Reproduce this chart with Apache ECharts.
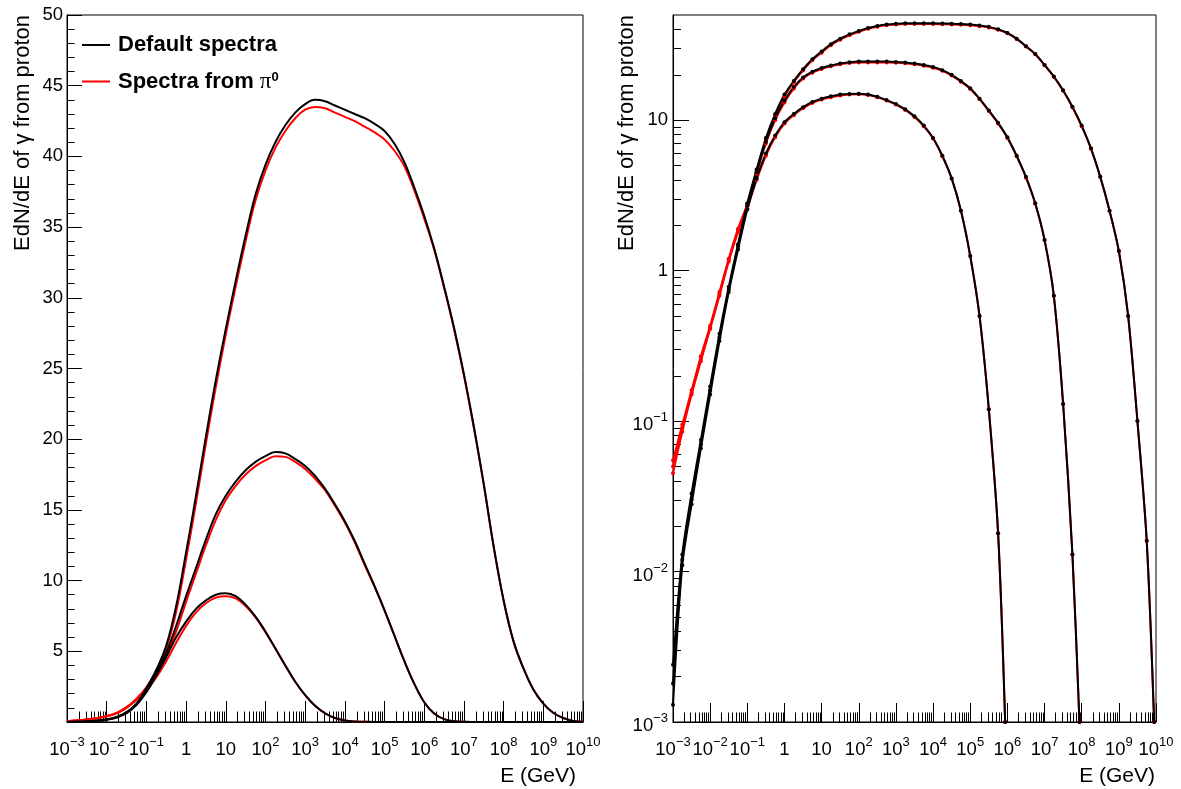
<!DOCTYPE html>
<html>
<head>
<meta charset="utf-8">
<script src="https://cdn.jsdelivr.net/npm/echarts@6/dist/echarts.min.js"></script>
<style>
html,body{margin:0;padding:0;background:#fff;}
#c{width:1181px;height:789px;}
</style>
</head>
<body>
<div id="c"></div>
<script>
// ---- data: log10(E/GeV) grid shared by all curves ----
const logE = [-3,-2.75,-2.5,-2.25,-2,-1.75,-1.5,-1.25,-1,-0.75,-0.5,-0.25,0,0.25,0.5,0.75,1,1.25,1.5,1.75,2,2.25,2.5,2.75,3,3.25,3.5,3.75,4,4.25,4.5,4.75,5,5.25,5.5,5.75,6,6.25,6.5,6.75,7,7.25,7.5,7.75,8,8.25,8.5,8.75,9,9.25,9.5,9.75,10];

// left panel (linear y)
const left1Default = [0.002,0.01,0.03,0.08,0.16,0.32,0.62,1.2,2.1,3.3,4.6,6.0,7.1,8.0,8.6,9.0,9.1,8.9,8.3,7.45,6.4,5.2,4.0,2.85,1.9,1.15,0.62,0.28,0.11,0.035,0.01,0,0,0,0,0,0,0,0,0,0,0,0,0,0,0,0,0,0,0,0,0,0];
const left1Pi0     = [0.05,0.1,0.17,0.27,0.4,0.62,1.0,1.55,2.25,3.15,4.3,5.6,6.8,7.75,8.4,8.8,8.9,8.75,8.2,7.4,6.35,5.2,4.0,2.85,1.9,1.15,0.62,0.28,0.11,0.035,0.01,0,0,0,0,0,0,0,0,0,0,0,0,0,0,0,0,0,0,0,0,0,0];
const left2Default = [0.002,0.01,0.035,0.085,0.17,0.34,0.66,1.25,2.3,3.5,4.9,6.8,8.9,10.9,12.9,14.7,16.0,17.0,17.8,18.4,18.8,19.1,19.0,18.6,18.1,17.4,16.5,15.4,14.2,12.8,11.2,9.6,7.9,6.1,4.3,2.7,1.4,0.6,0.2,0.06,0.015,0.003,0,0,0,0,0,0,0,0,0,0,0];
const left2Pi0     = [0.05,0.1,0.17,0.27,0.41,0.63,1.02,1.6,2.35,3.4,4.7,6.4,8.5,10.5,12.5,14.3,15.7,16.7,17.5,18.1,18.5,18.8,18.75,18.4,17.9,17.2,16.4,15.3,14.1,12.7,11.1,9.55,7.9,6.1,4.3,2.7,1.4,0.6,0.2,0.06,0.015,0.003,0,0,0,0,0,0,0,0,0,0,0];
const left3Default = [0.002,0.01,0.035,0.09,0.18,0.36,0.7,1.3,2.4,3.7,5.4,8.2,12.0,16.0,20.2,24.2,27.8,31.2,34.4,37.3,39.4,41.0,42.2,43.1,43.7,44.0,43.9,43.6,43.3,43.0,42.7,42.3,41.8,40.9,39.6,37.8,35.8,33.5,30.8,27.9,24.6,20.9,16.8,12.4,8.6,5.7,3.8,2.3,1.3,0.65,0.28,0.08,0.01];
const left3Pi0     = [0.05,0.1,0.17,0.28,0.42,0.65,1.05,1.65,2.45,3.6,5.2,7.8,11.5,15.5,19.7,23.7,27.4,30.8,34.0,36.9,39.0,40.6,41.8,42.7,43.3,43.5,43.4,43.1,42.8,42.5,42.1,41.7,41.2,40.4,39.3,37.6,35.6,33.4,30.7,27.8,24.5,20.8,16.8,12.4,8.6,5.7,3.8,2.3,1.3,0.65,0.28,0.08,0.01];

// right panel (log y); null = below the axis floor
const right1Default = [0.0013,0.011,0.028,0.066,0.15,0.34,0.72,1.38,2.55,4.1,6.0,7.9,9.7,11.0,12.2,13.2,13.9,14.4,14.8,14.95,15.0,14.8,14.3,13.6,12.8,11.8,10.6,9.2,7.6,5.8,4.1,2.5,1.25,0.5,0.12,0.018,null,null,null,null,null,null,null,null,null,null,null,null,null,null,null,null,null];
const right1Pi0     = [0.045,0.085,0.15,0.25,0.41,0.68,1.15,1.8,2.6,4.0,5.8,7.7,9.5,10.8,12.0,13.0,13.7,14.2,14.6,14.8,14.85,14.7,14.2,13.5,12.7,11.7,10.5,9.1,7.55,5.75,4.1,2.5,1.25,0.5,0.12,0.018,null,null,null,null,null,null,null,null,null,null,null,null,null,null,null,null,null];
const right2Default = [0.0018,0.012,0.03,0.07,0.16,0.36,0.75,1.45,2.7,4.5,7.2,10.3,13.5,16.6,19.2,21.0,22.2,23.1,23.8,24.3,24.5,24.5,24.5,24.5,24.4,24.2,23.8,23.3,22.6,21.5,20.0,18.2,16.3,13.9,11.6,9.6,7.7,5.8,4.2,2.8,1.6,0.68,0.13,0.013,null,null,null,null,null,null,null,null,null];
const right2Pi0     = [0.05,0.09,0.155,0.26,0.42,0.7,1.18,1.85,2.7,4.4,7.0,10.0,13.1,16.2,18.9,20.7,21.9,22.8,23.5,24.0,24.2,24.2,24.2,24.2,24.1,23.9,23.5,23.0,22.3,21.3,19.8,18.0,16.1,13.8,11.5,9.5,7.6,5.75,4.15,2.78,1.6,0.68,0.13,0.013,null,null,null,null,null,null,null,null,null];
const right3Default = [0.0024,0.013,0.033,0.075,0.17,0.38,0.78,1.5,2.8,4.7,7.6,11.0,14.8,18.2,21.8,25.4,28.6,32.0,34.8,37.2,39.2,41.0,42.3,43.2,43.7,44.0,44.0,44.0,44.0,43.9,43.8,43.6,43.2,42.6,41.7,40.2,38.0,34.8,31.0,27.5,23.3,19.5,15.8,12.3,9.2,6.5,4.2,2.5,1.35,0.5,0.1,0.016,null];
const right3Pi0     = [0.055,0.095,0.16,0.27,0.43,0.72,1.2,1.9,2.78,4.6,7.4,10.7,14.4,17.8,21.4,25.0,28.1,31.5,34.3,36.7,38.7,40.5,41.8,42.7,43.2,43.5,43.5,43.5,43.5,43.4,43.3,43.1,42.7,42.1,41.3,39.9,37.8,34.6,30.9,27.4,23.2,19.4,15.7,12.2,9.1,6.45,4.2,2.5,1.35,0.5,0.1,0.016,null];
// log10(E) where each right-panel curve reaches the 1e-3 floor
const rightCutoffLogE = [5.94, 7.94, 9.95];
const rightFloor = 0.001;
const rightCeil = 50;

const NAME_DEF = 'Default spectra';
const NAME_PI = 'Spectra from \u03c00';
const yTitle = 'EdN/dE of \u03b3 from proton';
const xTitle = 'E (GeV)';

// ---- build ----
const FONT = "'Liberation Sans', Arial, Helvetica, sans-serif";
const labRich = {
  b: {fontSize: 18.5, fontFamily: FONT, color: '#000', verticalAlign: 'bottom', lineHeight: 27},
  s: {fontSize: 13, fontFamily: FONT, color: '#000', verticalAlign: 'top', height: 20},
  c: {fontSize: 18.5, fontFamily: FONT, color: '#000'}
};
function powLabel(v, plain) {
  const n = Math.round(v);
  if (Math.abs(v - n) > 1e-6) return '';
  if (n === 0) return '{' + plain + '|1}';
  if (n === 1) return '{' + plain + '|10}';
  return '{b|10}{s|' + (n < 0 ? '\u2212' + (-n) : String(n)) + '}';
}
function minorLogTicks(lo, hi) {
  const out = [];
  for (let n = Math.floor(lo); n < hi; n++) {
    for (let k = 2; k <= 9; k++) {
      const t = n + Math.log10(k);
      if (t > lo && t < hi) out.push(t);
    }
  }
  return out;
}
const yMaxLog = Math.log10(rightCeil);
const yMinLog = Math.log10(rightFloor);

function leftData(vals) { return vals.map((v, i) => [logE[i], v]); }
function rightData(vals, cut) {
  const pts = [];
  vals.forEach((v, i) => { if (v != null && v > 0) pts.push([logE[i], Math.log10(v)]); });
  if (cut != null) pts.push([cut, Math.log10(rightFloor)]);
  return pts;
}

function mainX(grid, majorLen) {
  return {
    type: 'value', gridIndex: grid, min: -3, max: 10, interval: 1, position: 'bottom',
    axisLine: {show: true, onZero: false, lineStyle: {color: '#000', width: 1}},
    axisTick: {show: true, inside: true, length: majorLen, lineStyle: {color: '#000', width: 1}},
    axisLabel: {show: true, margin: 10, formatter: v => powLabel(v, 'b'), rich: labRich, color: '#000'},
    splitLine: {show: false}
  };
}
function minorX(grid, len) {
  return {
    type: 'value', gridIndex: grid, min: -3, max: 10, position: 'bottom', offset: 0,
    axisLine: {show: false, onZero: false},
    axisTick: {show: true, inside: true, length: len, customValues: minorLogTicks(-3, 10), lineStyle: {color: '#000', width: 1}},
    axisLabel: {show: false},
    splitLine: {show: false}
  };
}

const series = [];
function addLeft(vals, name, color) {
  series.push({
    type: 'line', name: name, xAxisIndex: 0, yAxisIndex: 0, data: leftData(vals),
    showSymbol: false, symbol: 'none', smooth: 0.4,
    lineStyle: {color: color, width: 2}, itemStyle: {color: color}, color: color,
    animation: false, silent: true
  });
}
function addRight(vals, cut, name, color) {
  series.push({
    type: 'line', name: name, xAxisIndex: 2, yAxisIndex: 1, data: rightData(vals, cut),
    showSymbol: true, symbol: 'circle', symbolSize: 4, smooth: 0.3,
    lineStyle: {color: color, width: 2}, itemStyle: {color: color, borderWidth: 0}, color: color,
    animation: false, silent: true
  });
}
addLeft(left1Pi0, NAME_PI, '#ff0000');
addLeft(left2Pi0, NAME_PI, '#ff0000');
addLeft(left3Pi0, NAME_PI, '#ff0000');
addLeft(left1Default, NAME_DEF, '#000000');
addLeft(left2Default, NAME_DEF, '#000000');
addLeft(left3Default, NAME_DEF, '#000000');
addRight(right1Pi0, rightCutoffLogE[0], NAME_PI, '#ff0000');
addRight(right2Pi0, rightCutoffLogE[1], NAME_PI, '#ff0000');
addRight(right3Pi0, rightCutoffLogE[2], NAME_PI, '#ff0000');
addRight(right1Default, rightCutoffLogE[0], NAME_DEF, '#000000');
addRight(right2Default, rightCutoffLogE[1], NAME_DEF, '#000000');
addRight(right3Default, rightCutoffLogE[2], NAME_DEF, '#000000');

const majorY = [-3, -2, -1, 0, 1];

const option = {
  animation: false,
  backgroundColor: '#fff',
  textStyle: {fontFamily: FONT},
  grid: [
    {left: 67, top: 15, width: 516, height: 707, show: true, borderColor: '#000', borderWidth: 1, backgroundColor: 'transparent'},
    {left: 673, top: 15, width: 483, height: 707, show: true, borderColor: '#000', borderWidth: 1, backgroundColor: 'transparent'}
  ],
  xAxis: [mainX(0, 21), minorX(0, 10.5), mainX(1, 19), minorX(1, 9.5)],
  yAxis: [
    {
      type: 'value', gridIndex: 0, min: 0, max: 50, interval: 5, position: 'left',
      axisLine: {show: true, onZero: false, lineStyle: {color: '#000', width: 1}},
      axisTick: {show: true, inside: true, length: 15, lineStyle: {color: '#000', width: 1}},
      minorTick: {show: true, splitNumber: 5, length: 7.5, lineStyle: {color: '#000', width: 1}},
      axisLabel: {margin: 4, fontSize: 18.5, fontFamily: FONT, color: '#000', formatter: v => (v === 0 ? '' : String(v))},
      splitLine: {show: false}
    },
    {
      type: 'value', gridIndex: 1, min: yMinLog, max: yMaxLog, position: 'left',
      axisLine: {show: true, onZero: false, lineStyle: {color: '#000', width: 1}},
      axisTick: {show: true, inside: true, length: 16, customValues: majorY, lineStyle: {color: '#000', width: 1}},
      axisLabel: {margin: 5, customValues: majorY, formatter: v => powLabel(v, 'c'), rich: labRich, color: '#000'},
      splitLine: {show: false}
    },
    {
      type: 'value', gridIndex: 1, min: yMinLog, max: yMaxLog, position: 'left', offset: 0,
      axisLine: {show: false, onZero: false},
      axisTick: {show: true, inside: true, length: 8, customValues: minorLogTicks(yMinLog, yMaxLog), lineStyle: {color: '#000', width: 1}},
      axisLabel: {show: false},
      splitLine: {show: false}
    }
  ],
  legend: {
    show: true, orient: 'vertical', left: 82, top: 34, itemGap: 14, padding: 0,
    itemWidth: 28, itemHeight: 2, icon: 'rect', selectedMode: false,
    data: [NAME_DEF, NAME_PI],
    formatter: name => (name === NAME_PI ? '{t|Spectra from }{p|\u03c0}{z|0}' : '{t|' + name + '}'),
    textStyle: {
      color: '#000', padding: [0, 0, 0, 3],
      rich: {
        t: {fontSize: 22, fontWeight: 'bold', fontFamily: FONT, color: '#000', lineHeight: 22, verticalAlign: 'middle'},
        p: {fontSize: 23, fontFamily: "'Liberation Serif','DejaVu Serif',serif", color: '#000', lineHeight: 22, verticalAlign: 'middle'},
        z: {fontSize: 13, fontWeight: 'bold', fontFamily: FONT, color: '#000', verticalAlign: 'top'}
      }
    }
  },
  graphic: [
    {type: 'text', x: 23, y: 15, rotation: Math.PI / 2, silent: true,
     style: {text: yTitle, fontSize: 22, fontFamily: FONT, fill: '#000', align: 'right', verticalAlign: 'middle'}},
    {type: 'text', x: 627, y: 15, rotation: Math.PI / 2, silent: true,
     style: {text: yTitle, fontSize: 22, fontFamily: FONT, fill: '#000', align: 'right', verticalAlign: 'middle'}},
    {type: 'text', x: 576, y: 776, silent: true,
     style: {text: xTitle, fontSize: 21, fontFamily: FONT, fill: '#000', align: 'right', verticalAlign: 'middle'}},
    {type: 'text', x: 1155, y: 776, silent: true,
     style: {text: xTitle, fontSize: 21, fontFamily: FONT, fill: '#000', align: 'right', verticalAlign: 'middle'}}
  ],
  series: series
};

const chart = echarts.init(document.getElementById('c'), null, {renderer: 'canvas'});
chart.setOption(option);
</script>
</body>
</html>
